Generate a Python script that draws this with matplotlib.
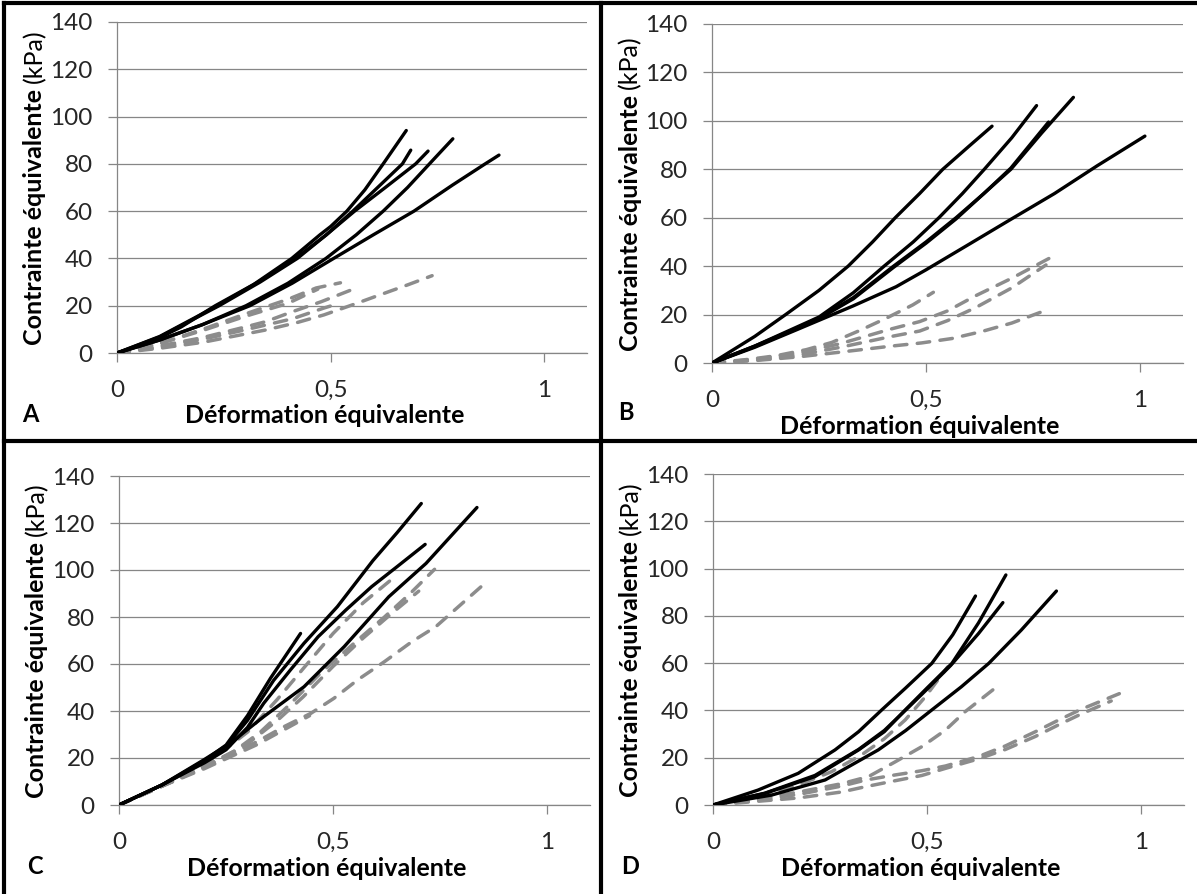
import matplotlib
matplotlib.use('Agg')
import matplotlib.pyplot as plt
from matplotlib.lines import Line2D

W, H = 1197, 894

# ---- data ----
# panel A
a_solid_x = [
    [0, .05, .1, .15, .23, .32, .409, .475, .5, .538, .58, .623, .677],
    [0, .1, .235, .33, .418, .49, .552, .61, .668, .6875],
    [0, .1, .239, .335, .422, .49, .556, .628, .699, .728],
    [0, .1, .2, .302, .4, .489, .56, .623, .68, .739, .786],
    [0, .1, .2, .311, .41, .507, .6, .695, .785, .86, .894],
]
a_solid_y = [
    [0, 3, 6.5, 11, 20, 29, 40, 50, 53.5, 60, 69, 80, 94.1],
    [0, 7, 20, 30, 40, 50, 60, 70, 80, 85.8],
    [0, 6.8, 20, 30, 40, 50, 60, 70, 80, 85.4],
    [0, 5.5, 12, 20, 29.5, 40, 50, 60, 70, 81.5, 90.6],
    [0, 5.5, 12, 20, 29.5, 40, 50, 60, 71, 79.8, 83.7],
]
a_dash_x = [
    [0, .1, .2, .3, .4, .466, .523],
    [0, .1, .2, .3, .4, .47],
    [0, .1, .2, .3, .347, .411, .478, .55],
    [0, .1, .2, .3, .411, .484, .52],
    [0, .1, .2, .347, .42, .484, .55, .614, .68, .7375],
]
a_dash_y = [
    [0, 4, 10, 16.5, 22.7, 27.5, 29.7],
    [0, 4, 9.5, 15.5, 21, 27],
    [0, 3, 6.5, 11, 13.2, 17.5, 21.7, 26.8],
    [0, 2.5, 5.8, 9.8, 14.5, 19, 21],
    [0, 2, 4.5, 9.7, 12.8, 16.1, 20.3, 24.5, 28.8, 32.7],
]

# panel B
b_solid_x = [
    [0, .1, .172, .25, .318, .375, .428, .485, .539, .6, .654],
    [0, .1, .2, .25, .33, .402, .47, .53, .585, .636, .7, .758],
    [0, .1, .2, .25, .33, .424, .5, .57, .635, .698, .77, .844],
    [0, .1, .2, .25, .33, .424, .5, .57, .635, .698, .786],
    [0, .1, .2, .33, .43, .5, .6, .69, .8, .9, 1.011],
]
b_solid_y = [
    [0, 11, 20, 30, 40, 50, 60, 70, 80, 89.5, 97.8],
    [0, 7, 15, 19, 29, 40, 50, 60, 70, 80, 93, 106.3],
    [0, 7, 14.5, 18.5, 27, 40, 50, 60, 70, 80, 95, 109.7],
    [0, 6.8, 14.3, 18.3, 26.5, 39.5, 49.5, 59.5, 70, 80.5, 99.5],
    [0, 6.5, 13.9, 23.6, 31.5, 38.5, 49, 58.5, 70, 81.5, 93.7],
]
b_dash_x = [
    [0, .085, .15, .22, .28, .346, .407, .469, .517],
    [0, .1, .2, .3, .415, .485, .55, .616, .7, .8],
    [0, .1, .2, .3, .42, .485, .55, .616, .7, .78],
    [0, .1, .2, .3, .42, .49, .56, .63, .7, .768],
]
b_dash_y = [
    [0, 1.5, 3, 5.5, 8.5, 13.5, 18.5, 24, 29.2],
    [0, 1.5, 4, 8, 13.9, 17.1, 21.5, 27.8, 35, 44.4],
    [0, 1.2, 3.2, 6.5, 11, 13.2, 17.5, 22.9, 31, 40.5],
    [0, 1, 2.5, 4.5, 7, 8.3, 10.1, 13, 16.5, 21],
]

# panel C
c_solid_x = [
    [0, .1, .2, .25, .3, .361, .432, .51, .593, .65, .706],
    [0, .1, .197, .26, .338, .432, .526, .63, .717, .836],
    [0, .1, .2, .25, .3, .338, .40, .465, .53, .59, .65, .715],
    [0, .1, .2, .25, .3, .354, .424],
]
c_solid_y = [
    [0, 8.5, 18.5, 25, 36, 53, 68.8, 84.4, 104, 116, 128.3],
    [0, 8.5, 19.1, 26.3, 37.6, 50.3, 67.4, 88.6, 102.8, 126.6],
    [0, 8.5, 18, 23.5, 33, 43.3, 57.4, 71.6, 83, 92.9, 101.5, 110.9],
    [0, 8.5, 19, 25.5, 38, 54, 73],
]
c_dash_x = [
    [0, .1, .2, .3, .37, .43, .5, .57, .65],
    [0, .1, .2, .27, .33, .4, .47, .55, .62, .68, .737],
    [0, .1, .2, .3, .37, .43, .5, .57, .64, .70],
    [0, .1, .2, .26, .322, .385, .448, .502, .557, .62, .684, .74, .845],
    [0, .1, .2, .26, .32, .40, .445],
]
c_dash_y = [
    [0, 8, 17, 31, 45, 58, 73, 86, 98],
    [0, 8, 16.5, 23, 31, 43, 56, 69, 80, 90, 100.3],
    [0, 8, 16, 26, 36, 46, 59, 71, 82, 91],
    [0, 8, 16, 21.5, 26.9, 33.3, 39, 45.4, 53.2, 61, 69.5, 75.9, 92.8],
    [0, 8, 15.5, 20.5, 25.5, 33.5, 38],
]

# panel D
d_solid_x = [
    [0, .105, .199, .285, .34, .394, .45, .511, .56, .613],
    [0, .121, .238, .34, .4, .449, .5, .558, .62, .684],
    [0, .121, .238, .34, .4, .449, .5, .555, .62, .677],
    [0, .137, .262, .386, .45, .511, .58, .644, .72, .802],
]
d_solid_y = [
    [0, 6.3, 13.4, 23.3, 31, 40.2, 49.5, 59.9, 72, 88.4],
    [0, 4.9, 12, 23.3, 31, 40.2, 49.5, 59.9, 77, 97.3],
    [0, 5, 12.5, 23.5, 31.5, 40, 49, 59, 72.5, 85.6],
    [0, 4.2, 10.6, 23.3, 31.5, 40.2, 50, 59.9, 74, 90.5],
]
d_dash_x = [
    [0, .1, .2, .277, .347, .4, .449, .496, .548],
    [0, .1, .2, .3, .363, .426, .488, .543, .589, .655],
    [0, .1, .2, .3, .355, .418, .488, .543, .62, .683, .753, .808, .86, .949],
    [0, .1, .2, .3, .355, .418, .488, .543, .62, .683, .753, .808, .86, .93],
]
d_dash_y = [
    [0, 3.5, 8.5, 14.1, 21.2, 28, 36, 45.8, 58.4],
    [0, 2.5, 5.5, 9, 12, 18.3, 24.7, 31.7, 39.5, 48.9],
    [0, 2, 4.5, 8, 10.5, 12.5, 14.5, 16.5, 20.5, 25, 31, 36, 40.5, 47.1],
    [0, 1.5, 3, 5.5, 7.7, 10, 12.5, 15.5, 19.5, 23.5, 29, 34, 38.5, 44],
]

x_ticks = [0, 0.5, 1]
x_tick_lbls = ['0', '0,5', '1']
y_ticks = [0, 20, 40, 60, 80, 100, 120, 140]
panel_letters = ['A', 'B', 'C', 'D']
xlbl = 'Déformation équivalente'
ylbl_bold = 'Contrainte équivalente'
ylbl_unit = '(kPa)'

# axes boxes in pixels: left, right, top, bottom
boxes = [(117, 587, 22, 353), (712, 1183, 24, 363),
         (119, 590, 476, 805), (713, 1184, 474, 805)]
letter_pos = [(30, 415), (626, 412), (35, 866), (630, 866)]

FONT = 'Lato'
GRID = '#868686'
GRAY = '#8c8c8c'

fig = plt.figure(figsize=(W / 100, H / 100), dpi=100)
renderer = fig.canvas.get_renderer()


def fx(px):
    return px / W


def fy(py):
    return 1 - py / H


panels = [(a_solid_x, a_solid_y, a_dash_x, a_dash_y),
          (b_solid_x, b_solid_y, b_dash_x, b_dash_y),
          (c_solid_x, c_solid_y, c_dash_x, c_dash_y),
          (d_solid_x, d_solid_y, d_dash_x, d_dash_y)]

for i, (sx, sy, dx, dy) in enumerate(panels):
    l, r, t, b = boxes[i]
    ax = fig.add_axes([fx(l), fy(b), (r - l) / W, (b - t) / H])
    for xs, ys in zip(dx, dy):
        ax.plot(xs, ys, color=GRAY, lw=2.5, dashes=(3.6, 3.0),
                dash_capstyle='round', solid_joinstyle='round', zorder=3)
    for xs, ys in zip(sx, sy):
        ax.plot(xs, ys, color='black', lw=2.4, solid_capstyle='round',
                solid_joinstyle='round', zorder=4)

    ax.set_xlim(0, 1.1)
    ax.set_ylim(0, 140)
    ax.set_xticks(x_ticks)
    ax.set_xticklabels(x_tick_lbls)
    ax.set_yticks(y_ticks)
    ax.yaxis.grid(True, color=GRID, lw=0.9)
    ax.set_axisbelow(True)
    for s in ['top', 'right']:
        ax.spines[s].set_visible(False)
    for s in ['left', 'bottom']:
        ax.spines[s].set_color(GRID)
        ax.spines[s].set_linewidth(0.9)
    ax.tick_params(axis='both', direction='out', color=GRID, width=0.9,
                   length=6.5, labelsize=17.5, labelcolor='#262626')
    ax.tick_params(axis='x', pad=13)
    ax.tick_params(axis='y', pad=11)
    for lab in ax.get_xticklabels() + ax.get_yticklabels():
        lab.set_fontfamily(FONT)
    ax.patch.set_alpha(0)

    # x label
    fig.text(fx(l + 208), fy(b + 63), xlbl, ha='center', va='center',
             fontsize=18, fontweight='bold', family=FONT)

    # y label: bold part + normal unit, centred on the axis
    cx = l - 82
    cy = (t + b) / 2
    t1 = fig.text(fx(cx), fy(cy), ylbl_bold, rotation=90, rotation_mode='anchor',
                  ha='left', va='center', fontsize=18, fontweight='bold', family=FONT)
    t2 = fig.text(fx(cx), fy(cy), ylbl_unit, rotation=90, rotation_mode='anchor',
                  ha='left', va='center', fontsize=18, family=FONT)
    w1 = t1.get_window_extent(renderer).height
    w2 = t2.get_window_extent(renderer).height
    gap = 6
    start = cy + (w1 + gap + w2) / 2
    t1.set_position((fx(cx), fy(start)))
    t2.set_position((fx(cx), fy(start - w1 - gap)))

    # panel letter
    lx, ly = letter_pos[i]
    fig.text(fx(lx), fy(ly), panel_letters[i], ha='center', va='center',
             fontsize=17, fontweight='bold', family=FONT)

# frame lines between panels
for xs, ys in [([4, W], [3, 3]), ([4, 4], [3, H]),
               ([601, 601], [3, H]), ([4, W], [441, 441])]:
    fig.add_artist(Line2D([fx(v) for v in xs], [fy(v) for v in ys],
                          color='black', lw=3, transform=fig.transFigure))

fig.savefig('out.png', dpi=100)
